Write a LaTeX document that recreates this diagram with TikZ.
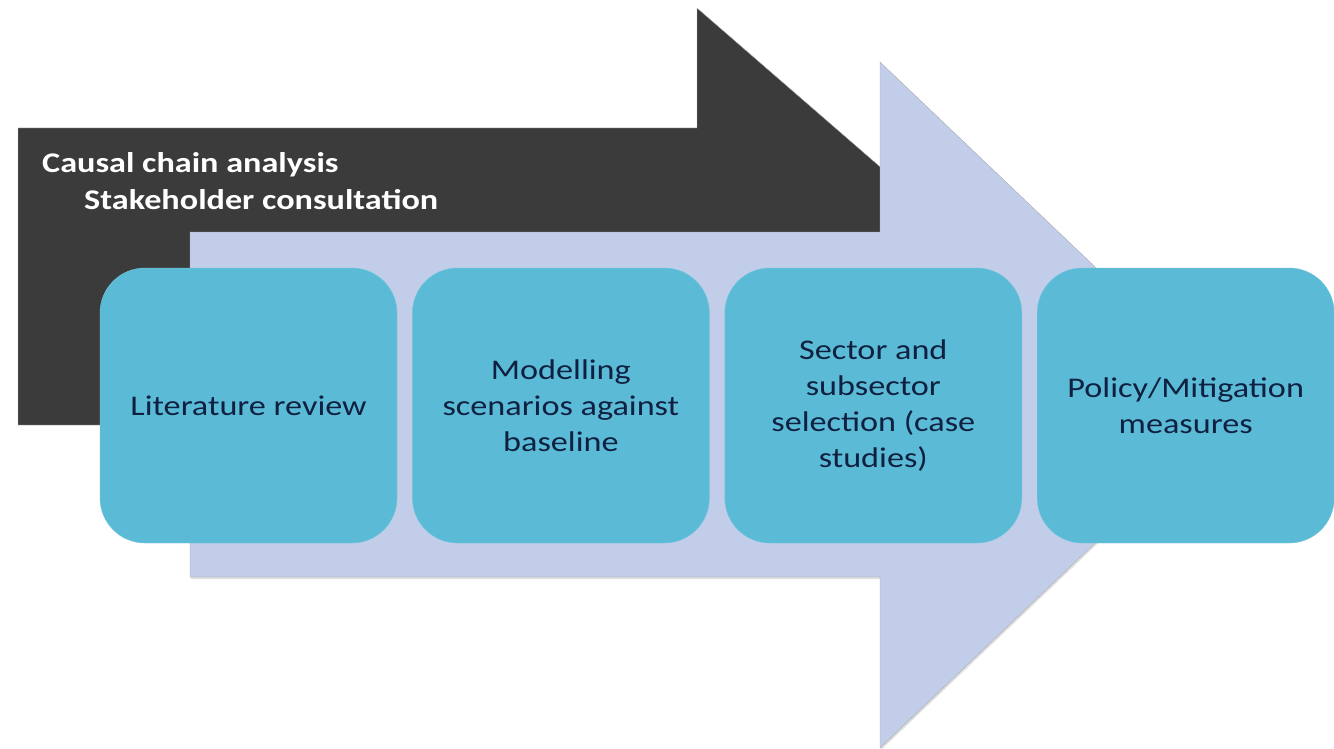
\documentclass[tikz,border=0pt]{standalone}
\usepackage{fontspec}
\setmainfont{Carlito}
\newfontfamily\stretchfont[FakeStretch=1.2]{Carlito}
\usepackage{tikz}
\usetikzlibrary{positioning, shadows}
\definecolor{chainGrey}{HTML}{3B3B3B}
\definecolor{flowBlue}{HTML}{C1CDE9}
\definecolor{stageCyan}{HTML}{5BBBD7}
\definecolor{stageText}{HTML}{0F2040}
\tikzset{
    auto, node distance = 15pt and 15pt,% gap between two stage boxes
    stagebox/.style={fill=stageCyan, draw=stageCyan!85!white, rounded corners=45pt,
        minimum width=297pt, minimum height=275pt, inner sep=0pt, align=center,
        text=stageText, font=\stretchfont\fontsize{28.5}{36}\selectfont},
    chainlabel/.style={anchor=base west, inner sep=0pt, text=white,
        font=\stretchfont\bfseries\fontsize{28.5}{36}\selectfont}
}

\begin{document}
\begin{tikzpicture}[x=1pt, y=-1pt]
    \useasboundingbox (0,0) rectangle (1334,749);
    % dark arrow behind
    \draw[draw=gray!55, fill=chainGrey]
        (18,128) -- (697,128) -- (697,8) -- (1006,276) -- (697,545) -- (697,425) -- (18,425) -- cycle;
    \node[chainlabel] (causal) at (42,172) {Causal chain analysis};
    \node[chainlabel] (stake) at (84,210) {Stakeholder consultation};
    % light arrow
    \draw[draw=gray!65, fill=flowBlue, drop shadow={opacity=0.25, shadow xshift=1pt, shadow yshift=-2pt}]
        (190,232) -- (880,232) -- (880,62) -- (1240,405) -- (880,748) -- (880,577) -- (190,577) -- cycle;
    % stages
    \node[stagebox] (lit) at (248.5,405.5) {Literature review};
    \node[stagebox, right=15pt of lit] (model) {Modelling\\scenarios against\\baseline};
    \node[stagebox, right=15pt of model] (sector) {Sector and\\subsector\\selection (case\\studies)};
    \node[stagebox, right=15pt of sector] (policy) {Policy/Mitigation\\measures};
\end{tikzpicture}
\end{document}
